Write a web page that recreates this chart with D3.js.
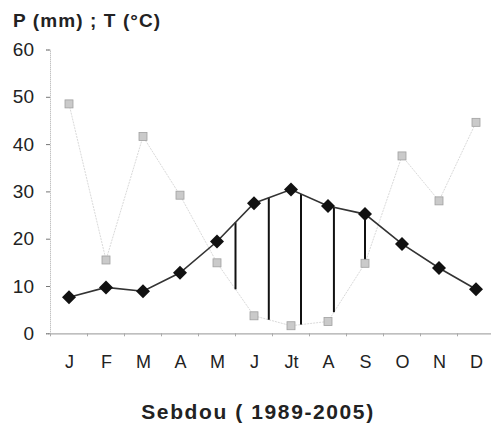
<!DOCTYPE html>
<html>
<head>
<meta charset="utf-8">
<script src="https://cdn.jsdelivr.net/npm/d3@7"></script>
<style>
  body { margin: 0; background: #fff; }
  text { font-family: "Liberation Sans", Arial, sans-serif; fill: #222; }
</style>
</head>
<body>
<div id="chart"></div>
<script>
var months = ["J", "F", "M", "A", "M ", "J ", "Jt", "A ", "S", "O", "N", "D"];
var precip = [48.5, 15.5, 41.6, 29.2, 14.9, 3.7, 1.6, 2.5, 14.8, 37.5, 28.0, 44.6];
var temp = [7.6, 9.7, 8.9, 12.8, 19.4, 27.5, 30.4, 26.9, 25.2, 18.9, 13.8, 9.3];
var yTicks = [0, 10, 20, 30, 40, 50, 60];
// dry season hatch lines, in month-index units
var hatchAt = [4.5, 5.4, 6.27, 7.16, 8.0];

var width = 491, height = 435;

var svg = d3.select("#chart").append("svg")
    .attr("width", width)
    .attr("height", height);

var x = d3.scalePoint()
    .domain(months)
    .range([50.5, 494.5])
    .padding(0.5);

var y = d3.scaleLinear()
    .domain([0, 60])
    .range([333.3, 49.5]);

function xi(i) {
  var a = Math.floor(i), f = i - a;
  var x0 = x(months[a]), x1 = x(months[Math.min(a + 1, 11)]);
  return x0 + (x1 - x0) * f;
}
function interp(arr, i) {
  var a = Math.floor(i), f = i - a;
  return arr[a] + (arr[Math.min(a + 1, 11)] - arr[a]) * f;
}

// y axis
var yAxis = svg.append("g")
    .attr("transform", "translate(50,0)")
    .call(d3.axisLeft(y).tickValues(yTicks).tickSize(4).tickPadding(12));
yAxis.select(".domain").attr("stroke", "#aaa").attr("stroke-dasharray", "1,1");
yAxis.selectAll(".tick line").attr("stroke", "#777");
yAxis.selectAll(".tick text")
    .style("font-size", "19px")
    .style("font-family", "'Liberation Sans', Arial, sans-serif")
    .attr("fill", "#222");

// x axis
var xAxis = svg.append("g")
    .attr("transform", "translate(0," + y(0) + ")")
    .call(d3.axisBottom(x).tickSize(0).tickPadding(22));
xAxis.select(".domain").attr("stroke", "#aaa").attr("stroke-width", 1.2);
xAxis.selectAll(".tick text")
    .style("font-size", "18px")
    .style("font-family", "'Liberation Sans', Arial, sans-serif")
    .attr("fill", "#222");
svg.append("g").selectAll("line")
    .data(months)
    .join("line")
    .attr("x1", function(d) { return x(d) - x.step() / 2; })
    .attr("x2", function(d) { return x(d) - x.step() / 2; })
    .attr("y1", y(0))
    .attr("y2", y(0) + 3)
    .attr("stroke", "#aaa");

// precipitation line
svg.append("path")
    .datum(precip)
    .attr("fill", "none")
    .attr("stroke", "#cfcfcf")
    .attr("stroke-width", 0.8)
    .attr("stroke-dasharray", "2,1")
    .attr("d", d3.line()
      .x(function(d, i) { return x(months[i]); })
      .y(function(d) { return y(d); }));

// hatch lines
svg.append("g").selectAll("line")
    .data(hatchAt)
    .join("line")
    .attr("x1", function(d) { return xi(d); })
    .attr("x2", function(d) { return xi(d); })
    .attr("y1", function(d) { return y(interp(temp, d)); })
    .attr("y2", function(d) { return y(interp(precip, d)); })
    .attr("stroke", "#111")
    .attr("stroke-width", 2);

// temperature line
svg.append("path")
    .datum(temp)
    .attr("fill", "none")
    .attr("stroke", "#333")
    .attr("stroke-width", 1.6)
    .attr("d", d3.line()
      .x(function(d, i) { return x(months[i]); })
      .y(function(d) { return y(d); }));

// precipitation markers
svg.append("g").selectAll("rect")
    .data(precip)
    .join("rect")
    .attr("x", function(d, i) { return x(months[i]) - 4; })
    .attr("y", function(d) { return y(d) - 4; })
    .attr("width", 8)
    .attr("height", 8)
    .attr("fill", "#cacaca")
    .attr("stroke", "#a0a0a0")
    .attr("stroke-width", 0.8);

// temperature markers
svg.append("g").selectAll("path")
    .data(temp)
    .join("path")
    .attr("transform", function(d, i) { return "translate(" + x(months[i]) + "," + y(d) + ")"; })
    .attr("d", d3.symbol(d3.symbolDiamond2, 125))
    .attr("fill", "#111");

// titles
svg.append("text")
    .attr("x", 13)
    .attr("y", 27)
    .style("font-size", "19px")
    .style("font-weight", "bold")
    .style("letter-spacing", "1.1px")
    .text("P (mm) ; T (°C)");

svg.append("text")
    .attr("x", 258)
    .attr("y", 419)
    .attr("text-anchor", "middle")
    .style("font-size", "21px")
    .style("font-weight", "bold")
    .style("letter-spacing", "1.6px")
    .text("Sebdou ( 1989-2005)");
</script>
</body>
</html>
